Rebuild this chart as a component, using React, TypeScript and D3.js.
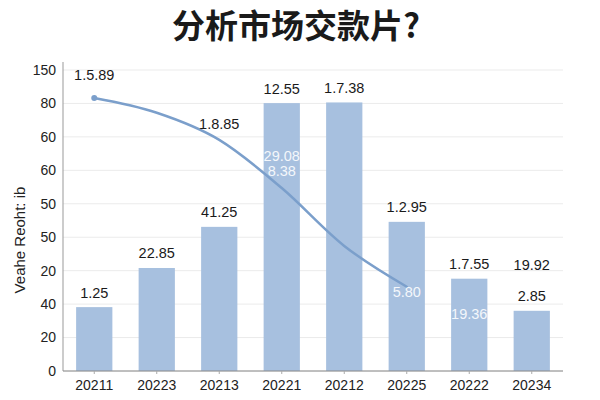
import { useEffect, useRef } from "react";
import { select, scaleLinear, scaleBand, line, curveMonotoneX } from "d3";

const width = 600;
const height = 400;
const margin = { top: 70, right: 37, bottom: 29, left: 63 };

// categories and bar heights (in grid steps, the axis labels are not linear)
const years = ["20211", "20223", "20213", "20221", "20212", "20225", "20222", "20234"];
const barValues = [1.91, 3.08, 4.31, 8.01, 8.03, 4.46, 2.76, 1.8];
const barLabels = ["1.25", "22.85", "41.25", "12.55", "1.7.38", "1.2.95", "1.7.55", "2.85"];
const yTickLabels = ["0", "20", "40", "20", "50", "50", "60", "60", "80", "150"];

// the curve runs over the first six categories
const lineValues = [8.16, 7.72, 6.91, 5.47, 3.74, 2.52];
const lineLabels = [
  { i: 0, text: "1.5.89", v: 8.7 },
  { i: 2, text: "1.8.85", v: 7.23 },
];

// loose labels, white ones sit inside the bars
const extraLabels = [
  { i: 3, text: "29.08", v: 6.28, white: true },
  { i: 3, text: "8.38", v: 5.83, white: true },
  { i: 5, text: "5.80", v: 2.21, white: true },
  { i: 6, text: "19.36", v: 1.56, white: true },
  { i: 7, text: "19.92", v: 3.02, white: false },
];

const barColor = "#a7c0df";
const lineColor = "#7b9fcb";
const font = "'Liberation Sans', Arial, sans-serif";

export default function App() {
  const svgRef = useRef<SVGSVGElement | null>(null);

  useEffect(() => {
    const svg = select(svgRef.current);
    svg.selectAll("*").remove();

    const x = scaleBand<string>()
      .domain(years)
      .range([margin.left, width - margin.right])
      .paddingInner(0.42)
      .paddingOuter(0.21);
    const y = scaleLinear()
      .domain([0, 9])
      .range([height - margin.bottom, margin.top]);
    const cx = (i: number) => (x(years[i]) ?? 0) + x.bandwidth() / 2;

    // grid
    svg
      .append("g")
      .selectAll("line")
      .data(yTickLabels)
      .enter()
      .append("line")
      .attr("x1", margin.left)
      .attr("x2", width - margin.right)
      .attr("y1", (_, i) => y(i))
      .attr("y2", (_, i) => y(i))
      .attr("stroke", "#ebebeb")
      .attr("stroke-width", 1);

    svg
      .append("g")
      .selectAll("text")
      .data(yTickLabels)
      .enter()
      .append("text")
      .attr("x", 56)
      .attr("y", (_, i) => y(i))
      .attr("dy", "0.35em")
      .attr("text-anchor", "end")
      .attr("font-family", font)
      .attr("font-size", 14)
      .attr("fill", "#222")
      .text((d) => d);

    // bars
    svg
      .append("g")
      .selectAll("rect")
      .data(barValues)
      .enter()
      .append("rect")
      .attr("x", (_, i) => x(years[i]) ?? 0)
      .attr("width", x.bandwidth())
      .attr("y", (d) => y(d))
      .attr("height", (d) => y(0) - y(d))
      .attr("fill", barColor);

    svg
      .append("g")
      .selectAll("text")
      .data(barLabels)
      .enter()
      .append("text")
      .attr("x", (_, i) => cx(i))
      .attr("y", (_, i) => y(barValues[i]) - 9.5)
      .attr("text-anchor", "middle")
      .attr("font-family", font)
      .attr("font-size", 14.5)
      .attr("fill", "#1a1a1a")
      .text((d) => d);

    // axes
    svg
      .append("line")
      .attr("x1", margin.left)
      .attr("x2", margin.left)
      .attr("y1", margin.top - 8)
      .attr("y2", y(0))
      .attr("stroke", "#999");
    svg
      .append("line")
      .attr("x1", margin.left)
      .attr("x2", width - margin.right)
      .attr("y1", y(0))
      .attr("y2", y(0))
      .attr("stroke", "#888");

    const xTicks = svg.append("g");
    years.forEach((yr, i) => {
      xTicks
        .append("line")
        .attr("x1", cx(i))
        .attr("x2", cx(i))
        .attr("y1", y(0))
        .attr("y2", y(0) + 3)
        .attr("stroke", "#aaa");
      xTicks
        .append("text")
        .attr("x", cx(i))
        .attr("y", y(0) + 19)
        .attr("text-anchor", "middle")
        .attr("font-family", font)
        .attr("font-size", 14)
        .attr("fill", "#222")
        .text(yr);
    });

    // curve
    const path = line<number>()
      .x((_, i) => cx(i))
      .y((d) => y(d))
      .curve(curveMonotoneX);
    svg
      .append("path")
      .datum(lineValues)
      .attr("d", path)
      .attr("fill", "none")
      .attr("stroke", lineColor)
      .attr("stroke-width", 2.5)
      .attr("stroke-linecap", "round");
    svg
      .append("circle")
      .attr("cx", cx(0))
      .attr("cy", y(lineValues[0]))
      .attr("r", 3)
      .attr("fill", lineColor);

    svg
      .append("g")
      .selectAll("text")
      .data(lineLabels)
      .enter()
      .append("text")
      .attr("x", (d) => cx(d.i))
      .attr("y", (d) => y(d.v))
      .attr("text-anchor", "middle")
      .attr("font-family", font)
      .attr("font-size", 14.5)
      .attr("fill", "#1a1a1a")
      .text((d) => d.text);

    svg
      .append("g")
      .selectAll("text")
      .data(extraLabels)
      .enter()
      .append("text")
      .attr("x", (d) => cx(d.i))
      .attr("y", (d) => y(d.v))
      .attr("text-anchor", "middle")
      .attr("font-family", font)
      .attr("font-size", 14.5)
      .attr("fill", (d) => (d.white ? "#f4f7fb" : "#1a1a1a"))
      .text((d) => d.text);

    // titles
    svg
      .append("text")
      .attr("x", 296)
      .attr("y", 38)
      .attr("text-anchor", "middle")
      .attr("font-family", "'Noto Sans CJK SC', sans-serif")
      .attr("font-weight", 700)
      .attr("font-size", 33)
      .attr("fill", "#1a1a1a")
      .text("分析市场交款片?");

    svg
      .append("text")
      .attr("transform", `translate(25, 240) rotate(-90)`)
      .attr("text-anchor", "middle")
      .attr("font-family", font)
      .attr("font-size", 15)
      .attr("fill", "#222")
      .text("Veahe Reoht: ib");
  }, []);

  return (
    <svg
      ref={svgRef}
      width={width}
      height={height}
      style={{ position: "absolute", left: 0, top: 0, background: "#fff" }}
    />
  );
}
